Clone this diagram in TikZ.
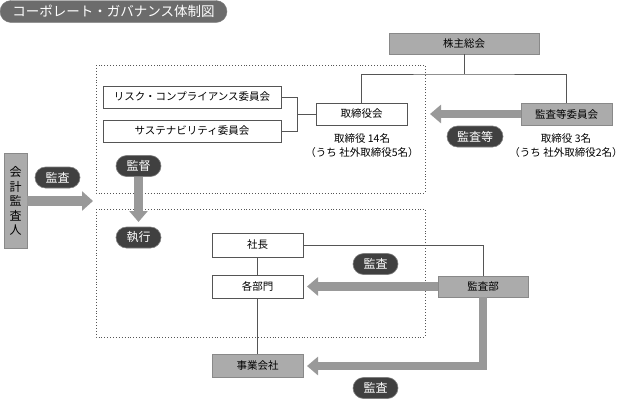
\documentclass[tikz,border=0pt]{standalone}
\usepackage{fontspec}
\setmainfont{Noto Sans CJK JP}
\usetikzlibrary{arrows.meta}
\definecolor{boxgray}{HTML}{ABABAB}
\definecolor{arrgray}{HTML}{999999}
\definecolor{pilldark}{HTML}{404040}
\definecolor{linegray}{HTML}{555555}
\begin{document}
\begin{tikzpicture}[x=1pt,y=-1pt,
  base/.style={inner sep=0pt, font=\fontsize{10.5}{12}\selectfont},
  wbox/.style={base, draw=linegray, line width=0.8pt, fill=white},
  gbox/.style={base, draw=boxgray!80!black, line width=0.5pt, fill=boxgray},
  pill/.style={inner sep=0pt, rounded corners=10.5pt, fill=pilldark, draw=gray, line width=0.6pt,
     text=white, minimum width=45pt, minimum height=21pt, font=\fontsize{12}{14}\selectfont},
  conn/.style={draw=linegray, line width=0.8pt},
  dotbox/.style={draw=linegray, line width=0.9pt, dotted},
  bigarrow/.style={draw=arrgray, line width=8.5pt, -{Triangle[length=11pt,width=18pt]}},
  note/.style={inner sep=0pt, font=\fontsize{10.5}{12}\selectfont}
]
\useasboundingbox (0,0) rectangle (632,400);

% title
\node[inner sep=0pt, rounded corners=11pt, fill=gray!85!black, draw=gray, minimum width=227pt, minimum height=22pt,
  text=white, font=\fontsize{13.5}{15}\selectfont] (title) at (113.5,11.5) {コーポレート・ガバナンス体制図};

% dotted areas
\draw[dotbox] (96,65) rectangle (425,193);
\draw[dotbox] (96,209) rectangle (425,337);

% boxes
\node[gbox, minimum width=150pt, minimum height=21pt] (soukai) at (464,43.5) {株主総会};
\node[wbox, minimum width=91pt, minimum height=22pt] (torishimari) at (361.5,114) {取締役会};
\node[gbox, minimum width=91pt, minimum height=22pt] (kansaiin) at (566.5,114) {監査等委員会};
\node[wbox, minimum width=178pt, minimum height=22pt] (risk) at (192,97) {リスク・コンプライアンス委員会};
\node[wbox, minimum width=178pt, minimum height=22pt] (sust) at (192,131) {サステナビリティ委員会};
\node[gbox, minimum width=23pt, minimum height=95pt, align=center, font=\fontsize{12}{14.5}\selectfont] (kaikei) at (15.5,201) {会\\計\\監\\査\\人};
\node[wbox, minimum width=91pt, minimum height=24pt] (shacho) at (257.5,245) {社長};
\node[wbox, minimum width=91pt, minimum height=23pt] (kakubumon) at (257.5,286.5) {各部門};
\node[gbox, minimum width=91pt, minimum height=23pt] (jigyou) at (257.5,365.5) {事業会社};
\node[gbox, minimum width=90pt, minimum height=21pt] (kansabu) at (483,286.5) {監査部};

% notes
\node[note] (n1a) at (362,138) {取締役 14名};
\node[note] (n1b) at (362,153) {（うち 社外取締役5名）};
\node[note] (n2a) at (566,138) {取締役 3名};
\node[note] (n2b) at (566,153) {（うち 社外取締役2名）};

% connectors
\coordinate (j) at (464,74);
\draw[conn] (soukai.south) -- (j);
\draw[conn] (torishimari.north) |- (j) -| (kansaiin.north);
\coordinate (k) at (297,114);
\draw[conn] (risk.east) -| (k);
\draw[conn] (sust.east) -| (k);
\draw[conn] (k) -- (torishimari.west);
\draw[conn] (shacho) -- (kakubumon);
\draw[conn] (kakubumon) -- (jigyou);
\draw[conn] (shacho.east) -| (kansabu.north);

% big arrows
\coordinate (t1) at (430,114);
\draw[bigarrow] (kansaiin.west) -- (t1);
\coordinate (t2) at (93,201);
\draw[bigarrow, line width=9.5pt, -{Triangle[length=11pt,width=19pt]}] (kaikei.east |- t2) -- (t2);
\node[pill] (kantoku) at (138.5,166) {監督};
\coordinate (t3) at (138.5,222);
\draw[bigarrow] (kantoku.south) -- (t3);
\coordinate (t4) at (307,286.5);
\draw[bigarrow] (kansabu.west) -- (t4);
\coordinate (t5) at (307,366);
\draw[bigarrow, line join=miter] (kansabu.south) |- (t5);

% pills
\node[pill] (shikkou) at (138.5,237.5) {執行};
\node[pill] (kansa1) at (57.5,177.5) {監査};
\node[pill] (kansa2) at (375.5,264) {監査};
\node[pill] (kansa3) at (375.5,388) {監査};
\node[pill, minimum width=56pt] (kansatou) at (475,136.5) {監査等};
\end{tikzpicture}
\end{document}
